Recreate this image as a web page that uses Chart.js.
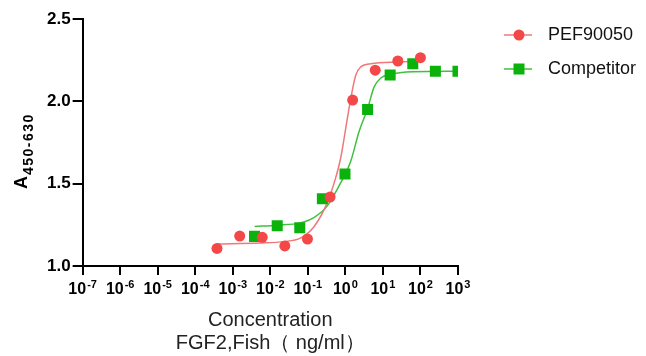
<!DOCTYPE html>
<html>
<head>
<meta charset="utf-8">
<script src="https://cdn.jsdelivr.net/npm/chart.js@4.4.1/dist/chart.umd.min.js"></script>
<style>
    html, body { margin: 0; padding: 0; background: #fff; }
</style>
</head>
<body>
<canvas id="binding-curve-chart" width="646" height="356"></canvas>

<script>
    // measured points (x = concentration, ng/ml)
    const pef_conc = [0.00038, 0.00153, 0.0061, 0.0244, 0.0977, 0.391, 1.563, 6.25, 25, 100];
    const pef_abs = [1.107, 1.182, 1.174, 1.122, 1.164, 1.419, 2.008, 2.189, 2.245, 2.265];

    const comp_conc = [0.0038, 0.0153, 0.061, 0.244, 0.977, 3.91, 15.6, 62.5, 250, 1000];
    const comp_abs = [1.18, 1.244, 1.232, 1.409, 1.559, 1.951, 2.16, 2.228, 2.183, 2.183];

    // fitted curves
    const pef_fit_conc = [0.00038, 0.0054, 0.0227, 0.0635, 0.142, 0.33, 0.551, 0.75, 1.13, 1.39, 1.89, 2.57, 4.76, 24.7, 100];
    const pef_fit_abs = [1.134, 1.140, 1.148, 1.169, 1.235, 1.385, 1.535, 1.656, 1.897, 2.017, 2.159, 2.209, 2.228, 2.239, 2.242];

    const comp_fit_conc = [0.0038, 0.0151, 0.0635, 0.145, 0.33, 0.75, 1.39, 2.32, 3.89, 5.85, 8.83, 14.7, 63, 1000];
    const comp_fit_abs = [1.240, 1.248, 1.262, 1.294, 1.365, 1.505, 1.636, 1.817, 1.954, 2.088, 2.142, 2.162, 2.18, 2.183];

    // axis
    const x_exponents = [-7, -6, -5, -4, -3, -2, -1, 0, 1, 2, 3];
    const y_ticks = [1.0, 1.5, 2.0, 2.5];
    const x_title_lines = ['Concentration', 'FGF2,Fish\uFF08 ng/ml\uFF09'];
    const series_names = ['PEF90050', 'Competitor'];

    const font_family = '"Liberation Sans", Arial, sans-serif';
    const red_point = '#f44848';
    const red_line = '#f07878';
    const green_point = '#0cb20c';
    const green_line = '#40c040';

    function to_points(xs, ys) {
        return xs.map((x, i) => ({x: x, y: ys[i]}));
    }

    // legend icon: short line with the marker in the middle
    function legend_icon(line_color, point_color, shape) {
        let c = document.createElement('canvas');
        c.width = 65;
        c.height = 16;
        let ctx = c.getContext('2d');
        ctx.strokeStyle = line_color;
        ctx.lineWidth = 1.5;
        ctx.beginPath();
        ctx.moveTo(30, 8);
        ctx.lineTo(58, 8);
        ctx.stroke();
        ctx.fillStyle = point_color;
        if (shape === 'circle') {
            ctx.beginPath();
            ctx.arc(45, 8, 5.5, 0, Math.PI * 2);
            ctx.fill();
        } else {
            ctx.fillRect(39.5, 2.5, 11, 11);
        }
        return c;
    }
    const legend_icons = [
        legend_icon(red_line, red_point, 'circle'),
        legend_icon(green_line, green_point, 'rect')
    ];

    // x tick labels as 10 with raised exponent
    const power_labels_plugin = {
        id: 'power_labels',
        afterDraw(chart) {
            let scale = chart.scales.x;
            let ctx = chart.ctx;
            ctx.save();
            ctx.fillStyle = '#000';
            ctx.textBaseline = 'alphabetic';
            ctx.textAlign = 'left';
            scale.ticks.forEach((tick, i) => {
                let px = scale.getPixelForTick(i);
                let exp_text = String(x_exponents[i]);
                ctx.font = 'bold 16px ' + font_family;
                let base_w = ctx.measureText('10').width;
                ctx.font = 'bold 11px ' + font_family;
                let exp_w = ctx.measureText(exp_text).width;
                let left = px - (base_w + 1 + exp_w) / 2;
                ctx.font = 'bold 16px ' + font_family;
                ctx.fillText('10', left, 294);
                ctx.font = 'bold 11px ' + font_family;
                ctx.fillText(exp_text, left + base_w + 1, 288);
            });
            ctx.restore();
        }
    };

    // y axis title A with subscript 450-630
    const y_title_plugin = {
        id: 'y_title',
        afterDraw(chart) {
            let ctx = chart.ctx;
            ctx.save();
            ctx.translate(27, 189);
            ctx.rotate(-Math.PI / 2);
            ctx.fillStyle = '#000';
            ctx.textBaseline = 'alphabetic';
            ctx.font = 'bold 18px ' + font_family;
            ctx.fillText('A', 0, 0);
            let a_w = ctx.measureText('A').width;
            ctx.font = 'bold 14px ' + font_family;
            ctx.letterSpacing = '1.5px';
            ctx.fillText('450-630', a_w + 1, 6);
            ctx.restore();
        }
    };

    let chart_el = document.getElementById('binding-curve-chart');
    new Chart(chart_el, {
        type: 'scatter',
        data: {
            datasets: [{
                    label: series_names[0],
                    data: to_points(pef_conc, pef_abs),
                    pointStyle: 'circle',
                    pointRadius: 5.5,
                    pointBackgroundColor: red_point,
                    pointBorderWidth: 0,
                    borderColor: red_line,
                    showLine: false
                }, {
                    label: series_names[1],
                    data: to_points(comp_conc, comp_abs),
                    pointStyle: 'rect',
                    pointRadius: 7.8,
                    pointBackgroundColor: green_point,
                    pointBorderWidth: 0,
                    borderColor: green_line,
                    showLine: false
                }, {
                    label: 'fit1',
                    data: to_points(pef_fit_conc, pef_fit_abs),
                    showLine: true,
                    pointRadius: 0,
                    borderColor: red_line,
                    borderWidth: 1.5,
                    cubicInterpolationMode: 'monotone'
                }, {
                    label: 'fit2',
                    data: to_points(comp_fit_conc, comp_fit_abs),
                    showLine: true,
                    pointRadius: 0,
                    borderColor: green_line,
                    borderWidth: 1.5,
                    cubicInterpolationMode: 'monotone'
                }]
        },
        options: {
            responsive: false,
            animation: false,
            layout: {
                padding: {left: 45, top: 10, right: 0, bottom: 0}
            },
            scales: {
                x: {
                    type: 'logarithmic',
                    min: 1e-7,
                    max: 1e3,
                    afterBuildTicks: (scale) => {
                        scale.ticks = x_exponents.map(e => ({value: Math.pow(10, e)}));
                    },
                    ticks: {display: false},
                    grid: {drawOnChartArea: false, drawTicks: true, tickLength: 9, color: '#000', lineWidth: 2},
                    border: {display: true, color: '#000', width: 2},
                    title: {
                        display: true,
                        text: x_title_lines,
                        color: '#222',
                        font: {size: 20, family: font_family, lineHeight: 1.15},
                        padding: {top: 34, bottom: 1}
                    }
                },
                y: {
                    min: 1.0,
                    max: 2.5,
                    afterBuildTicks: (scale) => {
                        scale.ticks = y_ticks.map(v => ({value: v}));
                    },
                    ticks: {
                        callback: (v) => Number(v).toFixed(1),
                        color: '#000',
                        padding: 2,
                        font: {size: 17, weight: 'bold', family: font_family, lineHeight: 2}
                    },
                    grid: {drawOnChartArea: false, drawTicks: true, tickLength: 10, color: '#000', lineWidth: 2},
                    border: {display: true, color: '#000', width: 2}
                }
            },
            plugins: {
                tooltip: {enabled: false},
                legend: {
                    position: 'right',
                    align: 'start',
                    maxWidth: 189,
                    labels: {
                        usePointStyle: true,
                        pointStyleWidth: 65,
                        padding: 16,
                        color: '#111',
                        font: {size: 18, family: font_family},
                        generateLabels: (chart) => {
                            let items = Chart.defaults.plugins.legend.labels.generateLabels(chart);
                            items.forEach(item => { item.pointStyle = legend_icons[item.datasetIndex]; });
                            return items;
                        },
                        filter: (item) => item.datasetIndex < 2
                    }
                }
            }
        },
        plugins: [power_labels_plugin, y_title_plugin]
    });
</script>
</body>
</html>
